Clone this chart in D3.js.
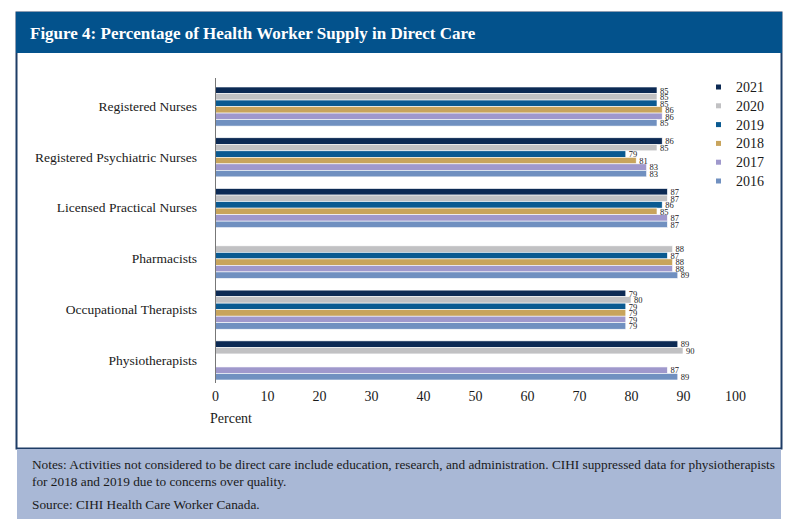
<!DOCTYPE html>
<html>
<head>
<meta charset="utf-8">
<script src="https://cdn.jsdelivr.net/npm/d3@7"></script>
<style>
  body { margin: 0; background: #fff; }
</style>
</head>
<body>
<div id="chart"></div>
<script>
const categories = ['Registered Nurses', 'Registered Psychiatric Nurses', 'Licensed Practical Nurses',
    'Pharmacists', 'Occupational Therapists', 'Physiotherapists'];
const years = ['2021', '2020', '2019', '2018', '2017', '2016'];
// one array per year, same order as categories (null = suppressed / no data)
const values2021 = [85, 86, 87, null, 79, 89];
const values2020 = [85, 85, 87, 88, 80, 90];
const values2019 = [85, 79, 86, 87, 79, null];
const values2018 = [86, 81, 85, 88, 79, null];
const values2017 = [86, 83, 87, 88, 79, 87];
const values2016 = [85, 83, 87, 89, 79, 89];
const xTicks = [0, 10, 20, 30, 40, 50, 60, 70, 80, 90, 100];

const seriesValues = [values2021, values2020, values2019, values2018, values2017, values2016];
const yearColors = ['#0c2a54', '#c1c1c3', '#0a5a91', '#c8a45c', '#9f98cc', '#7090c0'];

const serif = '"Liberation Serif", "DejaVu Serif", serif';
const width = 800;
const height = 532;

const svg = d3.select('#chart')
    .append('svg')
    .attr('width', width)
    .attr('height', height)
    .attr('font-family', serif);

// frame, title bar, notes box
svg.append('rect')
    .attr('x', 16.5).attr('y', 12.5)
    .attr('width', 765).attr('height', 436)
    .attr('fill', '#fff')
    .attr('stroke', '#1e3d66')
    .attr('stroke-width', 2);

svg.append('rect')
    .attr('x', 16).attr('y', 12)
    .attr('width', 766).attr('height', 41)
    .attr('fill', '#03528c');

svg.append('text')
    .attr('x', 30).attr('y', 39)
    .attr('fill', '#fff')
    .attr('font-size', 17)
    .attr('font-weight', 'bold')
    .text('Figure 4: Percentage of Health Worker Supply in Direct Care');

svg.append('rect')
    .attr('x', 17).attr('y', 449)
    .attr('width', 764).attr('height', 70)
    .attr('fill', '#a9b8d6');

const notes = svg.append('g')
    .attr('font-size', 13.3)
    .attr('fill', '#1a1a1a');
notes.append('text').attr('x', 32).attr('y', 469)
    .text('Notes: Activities not considered to be direct care include education, research, and administration. CIHI suppressed data for physiotherapists');
notes.append('text').attr('x', 32).attr('y', 486)
    .text('for 2018 and 2019 due to concerns over quality.');
notes.append('text').attr('x', 32).attr('y', 509)
    .text('Source: CIHI Health Care Worker Canada.');

// scales
const x = d3.scaleLinear().domain([0, 100]).range([215, 735]);

const y = d3.scaleBand()
    .domain(categories)
    .range([87, 380])
    .paddingInner(0.23)
    .paddingOuter(0);

const yInner = d3.scaleBand()
    .domain(years)
    .range([0, y.bandwidth()]);

const color = d3.scaleOrdinal().domain(years).range(yearColors);

// x axis
const xAxis = svg.append('g')
    .attr('transform', 'translate(0,385)')
    .call(d3.axisBottom(x).tickValues(xTicks).tickSize(0).tickPadding(6));
xAxis.select('.domain').remove();
xAxis.selectAll('text')
    .attr('font-size', 14)
    .attr('fill', '#1a1a1a');

svg.append('text')
    .attr('x', 210).attr('y', 423)
    .attr('font-size', 14)
    .attr('fill', '#1a1a1a')
    .text('Percent');

// category labels
const yAxis = svg.append('g')
    .attr('transform', 'translate(215,0)')
    .call(d3.axisLeft(y).tickSize(0).tickPadding(18));
yAxis.select('.domain').remove();
yAxis.selectAll('text')
    .attr('font-size', 13.5)
    .attr('fill', '#1a1a1a');

// bars
const rows = [];
categories.forEach((c, ci) => {
    years.forEach((yr, yi) => {
        const v = seriesValues[yi][ci];
        if (v !== null) rows.push({ category: c, year: yr, value: v });
    });
});

const group = svg.append('g');
group.selectAll('rect')
    .data(rows)
    .enter().append('rect')
    .attr('x', x(0))
    .attr('y', d => y(d.category) + yInner(d.year))
    .attr('width', d => x(d.value) - x(0))
    .attr('height', yInner.bandwidth())
    .attr('fill', d => color(d.year))
    .attr('stroke', '#fff')
    .attr('stroke-width', 0.6);

group.selectAll('text')
    .data(rows)
    .enter().append('text')
    .attr('x', d => x(d.value) + 3)
    .attr('y', d => y(d.category) + yInner(d.year) + yInner.bandwidth())
    .attr('font-size', 8.5)
    .attr('fill', '#222')
    .text(d => d.value);

// vertical axis line
svg.append('line')
    .attr('x1', 215.5).attr('x2', 215.5)
    .attr('y1', 78).attr('y2', 383)
    .attr('stroke', '#777')
    .attr('stroke-width', 1);

// legend
const legend = svg.append('g')
    .selectAll('g')
    .data(years)
    .enter().append('g')
    .attr('transform', (d, i) => `translate(716, ${87 + i * 18.8})`);

legend.append('rect')
    .attr('x', 0).attr('y', -2.5)
    .attr('width', 5).attr('height', 5)
    .attr('fill', d => color(d));

legend.append('text')
    .attr('x', 20).attr('y', 5)
    .attr('font-size', 14)
    .attr('fill', '#1a1a1a')
    .text(d => d);

// axis groups set sans-serif; force the serif face everywhere
svg.selectAll('g').attr('font-family', null);
svg.selectAll('text').style('font-family', serif);
</script>
</body>
</html>
